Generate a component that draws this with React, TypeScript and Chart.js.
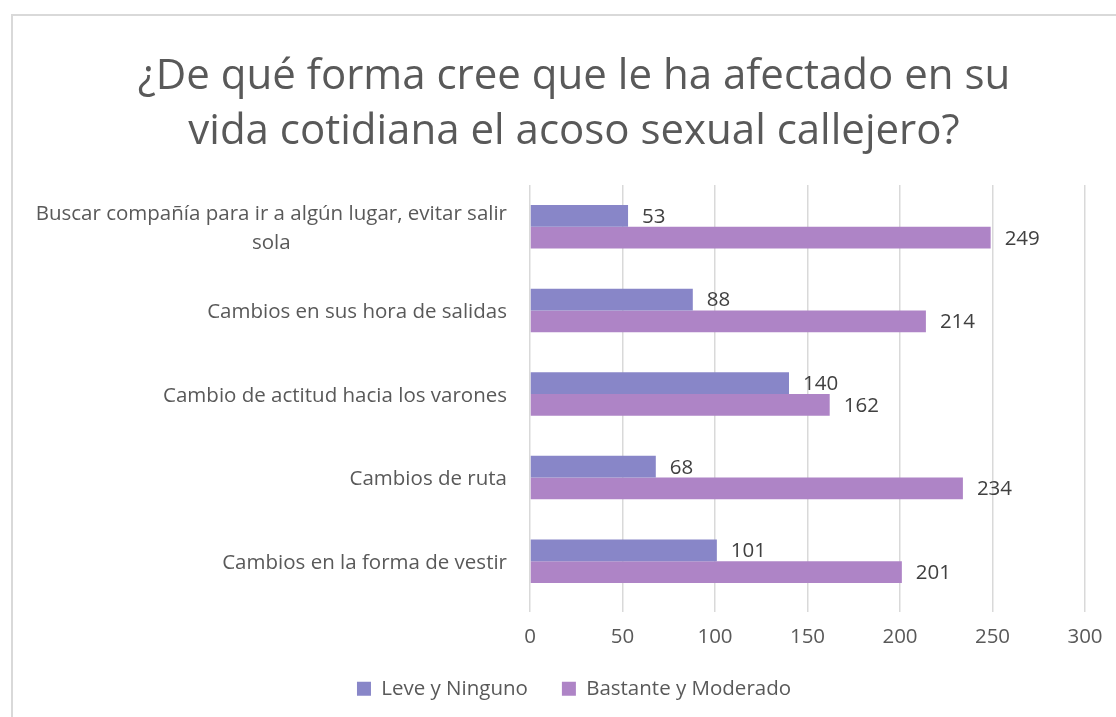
import { useEffect, useRef } from "react";
import { Chart, registerables } from "chart.js";

Chart.register(...registerables);

const titleLines = [
  "¿De qué forma cree que le ha afectado en su",
  "vida cotidiana el acoso sexual callejero?",
];
const categories = [
  ["Buscar compañía para ir a algún lugar, evitar salir", "sola"],
  ["Cambios en sus hora de salidas"],
  ["Cambio de actitud hacia los varones"],
  ["Cambios de ruta"],
  ["Cambios en la forma de vestir"],
];
const seriesNames = ["Leve y Ninguno", "Bastante y Moderado"];
const leveYNinguno = [53, 88, 140, 68, 101];
const bastanteYModerado = [249, 214, 162, 234, 201];
const xMin = 0;
const xMax = 300;
const xStep = 50;

const FONT = '"Open Sans", sans-serif';
const SMALL = 20.5;

const decorPlugin = {
  id: "decor",
  beforeDraw(chart: any) {
    const ctx = chart.ctx;
    ctx.save();
    ctx.strokeStyle = "#D9D9D9";
    ctx.lineWidth = 2;
    ctx.beginPath();
    ctx.moveTo(12, 2000);
    ctx.lineTo(12, 15);
    ctx.lineTo(3000, 15);
    ctx.stroke();
    ctx.restore();
  },
  afterDraw(chart: any) {
    const ctx = chart.ctx;
    const yScale = chart.scales.y;
    ctx.save();
    ctx.font = `${SMALL}px ${FONT}`;
    ctx.fillStyle = "#595959";
    ctx.textBaseline = "middle";
    ctx.textAlign = "center";
    const labels = chart.data.labels as string[][];
    labels.forEach((lines, i) => {
      const cy = yScale.getPixelForTick(i) + 2;
      const maxW = Math.max(...lines.map((l) => ctx.measureText(l).width));
      const right = yScale.right - 23;
      const cx = right - maxW / 2;
      const n = lines.length;
      lines.forEach((l, j) => {
        ctx.fillText(l, cx, cy + (j - (n - 1) / 2) * 29);
      });
    });
    ctx.fillStyle = "#404040";
    ctx.textAlign = "left";
    chart.data.datasets.forEach((ds: any, di: number) => {
      const meta = chart.getDatasetMeta(di);
      meta.data.forEach((el: any, i: number) => {
        ctx.fillText(String(ds.data[i]), el.x + 14, el.y + 1);
      });
    });
    ctx.restore();
  },
};

export default function App() {
  const ref = useRef<HTMLCanvasElement | null>(null);
  useEffect(() => {
    if (!ref.current) return;
    const chart = new Chart(ref.current, {
      type: "bar",
      data: {
        labels: categories as any,
        datasets: [
          {
            label: seriesNames[0],
            data: leveYNinguno,
            backgroundColor: "#8886C8",
            borderWidth: 0,
          },
          {
            label: seriesNames[1],
            data: bastanteYModerado,
            backgroundColor: "#AE84C6",
            borderWidth: 0,
          },
        ],
      },
      options: {
        indexAxis: "y",
        animation: false,
        responsive: true,
        maintainAspectRatio: false,
        layout: { padding: { left: 63, right: 31, top: 0, bottom: 8 } },
        datasets: { bar: { categoryPercentage: 0.52, barPercentage: 1 } },
        scales: {
          x: {
            min: xMin,
            max: xMax,
            ticks: {
              stepSize: xStep,
              color: "#595959",
              font: { family: FONT, size: SMALL },
              padding: 13,
            },
            grid: { color: "#D9D9D9", lineWidth: 1.5, tickLength: 9 },
            border: { display: false },
            afterFit(scale: any) {
              scale.height = 41.5;
            },
          },
          y: {
            ticks: { display: false },
            grid: { display: false },
            border: { display: false },
            afterFit(scale: any) {
              scale.width = 467;
            },
          },
        },
        plugins: {
          title: {
            display: true,
            text: titleLines,
            color: "#595959",
            font: { family: FONT, size: 42, weight: "normal", lineHeight: "55px" },
            padding: { top: 50, bottom: 25 },
          },
          legend: {
            position: "bottom",
            labels: {
              boxWidth: 14,
              boxHeight: 14,
              padding: 34,
              color: "#595959",
              font: { family: FONT, size: SMALL },
            },
          },
          tooltip: { enabled: false },
        },
      },
      plugins: [decorPlugin],
    });
    return () => chart.destroy();
  }, []);
  return (
    <div style={{ position: "fixed", left: 0, top: 0, width: 1116, height: 717, background: "#fff" }}>
      <canvas ref={ref} />
    </div>
  );
}
